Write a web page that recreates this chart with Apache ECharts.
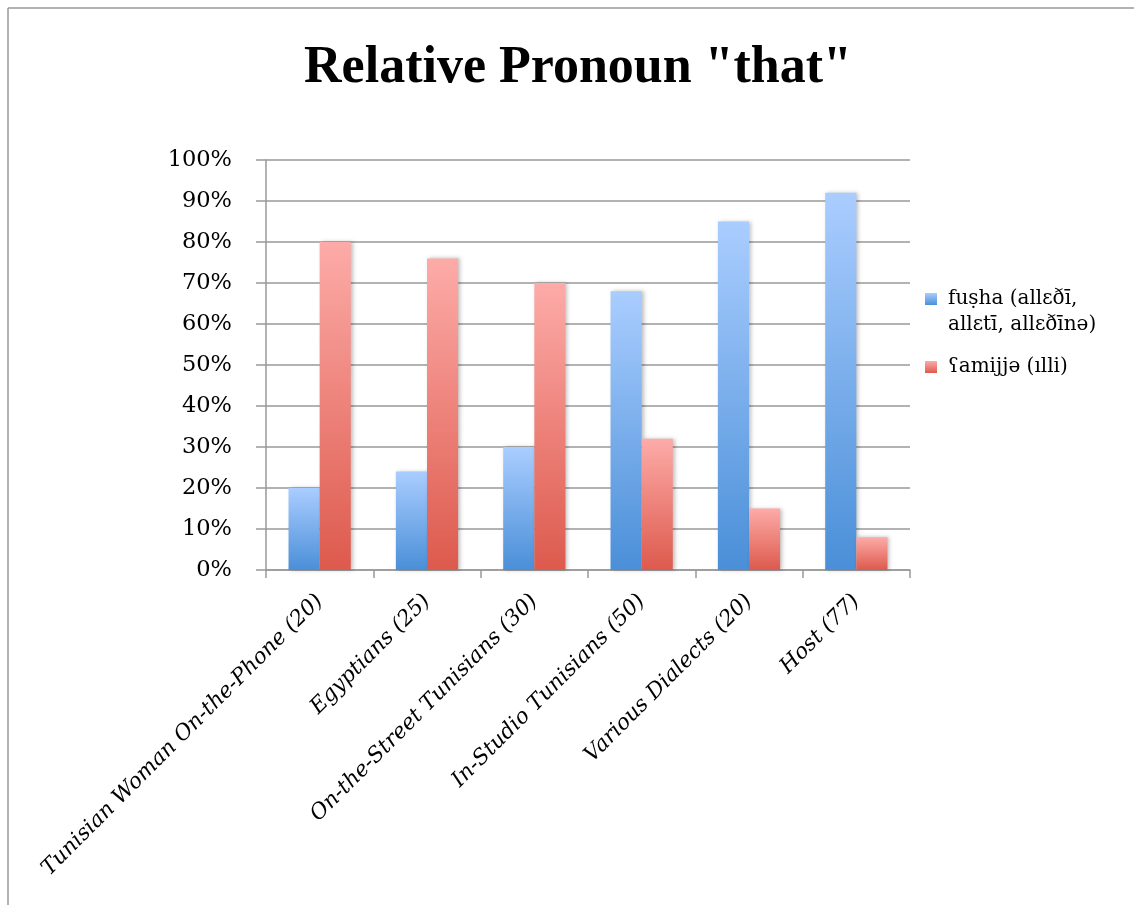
<!DOCTYPE html>
<html>
<head>
<meta charset="utf-8">
<script src="https://cdn.jsdelivr.net/npm/echarts@6/dist/echarts.min.js"></script>
<style>html,body{margin:0;padding:0;background:#fff}#c{width:1134px;height:905px}</style>
</head>
<body>
<div id="c"></div>
<script>
const categories = ["Tunisian Woman On-the-Phone (20)", "Egyptians (25)", "On-the-Street Tunisians (30)", "In-Studio Tunisians (50)", "Various Dialects (20)", "Host (77)"];
const fushaValues = [20, 24, 30, 68, 85, 92];
const amiValues = [80, 76, 70, 32, 15, 8];
const seriesNames = ["fuṣha (allɛðī, allɛtī, allɛðīnə)", "ʕamijjə (ılli)"];
const yTicks = [0, 10, 20, 30, 40, 50, 60, 70, 80, 90, 100];

const serif = "DejaVu Serif";
const chart = echarts.init(document.getElementById('c'));
const blueGrad = new echarts.graphic.LinearGradient(0, 0, 0, 1, [{offset: 0, color: '#aacdff'}, {offset: 1, color: '#4a8fd8'}]);
const redGrad = new echarts.graphic.LinearGradient(0, 0, 0, 1, [{offset: 0, color: '#fdaba8'}, {offset: 1, color: '#dd5a4d'}]);
const shadow = {shadowBlur: 4, shadowColor: 'rgba(0,0,0,0.25)', shadowOffsetX: 2, shadowOffsetY: 0};

chart.setOption({
  animation: false,
  backgroundColor: '#fff',
  title: {
    text: 'Relative Pronoun "that"',
    left: 573, top: 38, textAlign: 'center',
    textStyle: {fontFamily: 'Liberation Serif', fontWeight: 'bold', fontSize: 52, color: '#000'}
  },
  graphic: [
    {type: 'line', shape: {x1: 8, y1: 8, x2: 1134, y2: 8}, style: {stroke: '#999', lineWidth: 1.5}},
    {type: 'line', shape: {x1: 8, y1: 8, x2: 8, y2: 905}, style: {stroke: '#999', lineWidth: 1.5}}
  ],
  legend: {
    orient: 'vertical', left: 925, top: 260, itemGap: 16, padding: 0,
    itemWidth: 12, itemHeight: 12, icon: 'rect',
    data: seriesNames,
    formatter: function (n) { return n === seriesNames[0] ? '\nfuṣha (allɛðī,\nallɛtī, allɛðīnə)' : n; },
    textStyle: {fontFamily: serif, fontSize: 20, color: '#000', lineHeight: 26, padding: [0, 0, 0, 6]}
  },
  grid: {left: 266, right: 224, top: 160, bottom: 335},
  xAxis: {
    type: 'category', data: categories,
    axisLine: {lineStyle: {color: '#999', width: 1.5}},
    axisTick: {show: true, length: 8, lineStyle: {color: '#999', width: 1.5}},
    axisLabel: {rotate: 45, margin: 28, interval: 0, fontFamily: serif, fontStyle: 'italic', fontSize: 21.5, color: '#000'}
  },
  yAxis: {
    type: 'value', min: 0, max: 100, interval: 10,
    axisLine: {show: true, lineStyle: {color: '#999', width: 1.5}},
    axisTick: {show: true, length: 10, lineStyle: {color: '#999', width: 1.5}},
    splitLine: {lineStyle: {color: '#999', width: 1.5}},
    axisLabel: {margin: 34, fontFamily: serif, fontSize: 22.5, color: '#000', formatter: v => yTicks.includes(v) ? v + '%' : ''}
  },
  series: [
    {name: seriesNames[0], type: 'bar', data: fushaValues, barGap: '0%', barCategoryGap: '42%', itemStyle: Object.assign({color: blueGrad}, shadow)},
    {name: seriesNames[1], type: 'bar', data: amiValues, barGap: '0%', barCategoryGap: '42%', itemStyle: Object.assign({color: redGrad}, shadow)}
  ]
});
</script>
</body>
</html>
